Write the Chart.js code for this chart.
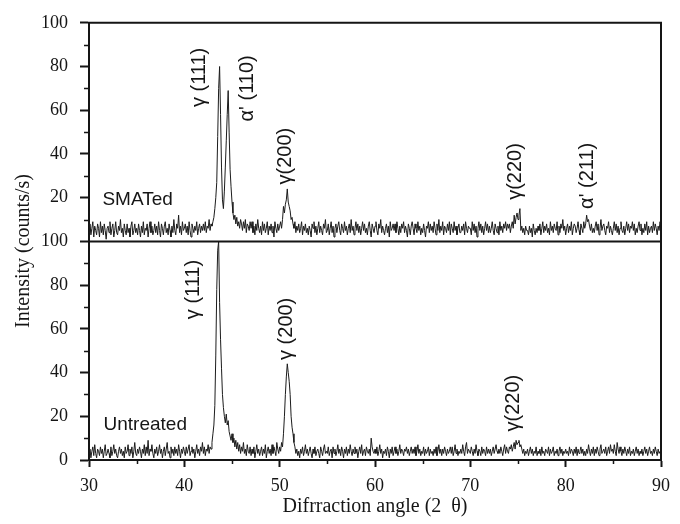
<!DOCTYPE html>
<html>
<head>
<meta charset="utf-8">
<script src="https://cdn.jsdelivr.net/npm/chart.js@4.4.1/dist/chart.umd.min.js"></script>
<style>
  html, body { margin: 0; padding: 0; background: #fff; }
  #wrap { width: 680px; height: 524px; }
</style>
</head>
<body>
<div id="wrap"><canvas id="xrdChart" width="680" height="524"></canvas></div>
<script>
// 2-theta grid, 0.1 degree steps from 30 to 90
const startAngle = 30;
const stepAngle = 0.1;
const angleCount = 601;
const angles = Array.from({ length: angleCount }, (_, i) => +(startAngle + i * stepAngle).toFixed(1));

const xTicks = [30, 40, 50, 60, 70, 80, 90];
const yTicks = [0, 20, 40, 60, 80, 100];

// SMATed sample (upper panel), one row per degree
const smated = [
  4,8,3,6,9,2,7,5,3,8,   // 30
  6,2,9,4,7,3,8,5,1,6,
  7,4,9,3,6,8,2,5,9,4,
  3,7,5,10,4,6,2,8,5,3,
  8,4,6,2,7,9,3,5,8,4,
  6,3,8,5,2,7,4,9,3,6,   // 35
  5,8,2,6,9,4,7,3,5,8,
  4,7,3,9,5,2,8,6,3,7,
  9,4,6,3,8,5,2,7,4,10,
  5,3,8,6,12,4,7,3,9,5,
  6,8,4,7,3,9,5,2,8,6,   // 40
  4,7,5,9,3,6,8,4,7,5,
  8,5,9,4,7,6,10,5,8,7,
  9,11,15,20,27,48,70,80,58,34,
  19,15,23,34,46,58,69,50,33,25,
  18,13,10,12,8,11,7,9,6,10,   // 45
  8,5,9,6,10,4,8,7,5,9,
  6,9,4,7,3,8,5,10,6,4,
  7,3,9,5,8,4,6,9,3,7,
  5,8,4,7,2,9,6,4,8,5,
  7,9,6,10,16,13,17,19,24,18,  // 50
  16,14,10,11,8,6,9,4,7,5,
  8,4,6,9,3,7,5,8,4,6,
  3,7,5,2,8,6,9,4,7,3,
  6,9,4,7,5,3,8,6,10,4,
  5,8,3,6,9,4,7,2,6,8,   // 55
  4,7,9,5,3,8,6,4,9,5,
  7,3,6,8,4,10,5,7,3,6,
  9,5,8,4,7,3,6,9,5,8,
  4,6,3,7,9,5,2,8,6,4,
  7,9,5,3,8,6,10,4,7,5,  // 60
  3,6,8,4,7,2,9,5,6,8,
  5,8,4,9,6,3,7,4,8,6,
  9,4,7,5,2,8,6,3,7,9,
  6,3,8,6,4,9,5,7,3,6,
  4,8,5,2,7,6,9,4,8,5,   // 65
  7,4,9,6,3,8,5,10,4,7,
  5,9,3,7,6,4,8,5,9,3,
  8,6,4,9,5,7,3,6,8,4,
  4,7,5,8,3,9,6,4,7,6,
  6,3,9,5,8,4,7,2,6,9,   // 70
  5,8,4,7,3,6,9,5,8,4,
  7,4,6,9,5,3,8,6,4,7,
  3,9,5,7,4,8,6,9,5,8,
  6,8,4,7,9,6,12,8,11,13,
  10,12,15,5,7,4,6,3,7,5,  // 75
  5,3,7,4,6,2,8,5,3,6,
  4,7,5,8,3,6,9,4,7,5,
  8,4,6,3,9,5,7,4,8,6,
  5,9,3,7,4,8,6,10,5,7,
  3,6,8,4,7,5,9,3,6,8,   // 80
  7,4,6,9,5,3,8,6,4,9,
  6,8,12,9,10,7,5,8,4,6,
  4,7,9,5,8,3,6,10,5,7,
  8,5,3,7,6,9,4,7,5,3,
  6,9,5,8,4,7,3,6,9,5,   // 85
  4,7,3,6,9,5,8,4,7,6,
  9,5,8,3,6,4,7,9,5,8,
  3,6,4,8,5,9,3,7,4,6,
  7,4,9,5,8,6,3,7,5,9,
  6                      // 90
];

// Untreated sample (lower panel)
const untreated = [
  3,5,1,4,6,2,7,3,1,5,   // 30
  4,2,6,3,5,1,4,7,2,3,
  5,3,1,6,2,4,7,3,5,2,
  1,4,6,3,5,2,4,1,6,3,
  4,7,2,5,3,6,1,4,8,3,
  2,5,3,6,4,1,5,3,7,2,   // 35
  6,3,9,2,5,4,7,3,1,5,
  3,6,2,4,7,3,5,1,4,6,
  2,5,8,3,4,1,6,3,5,2,
  6,3,5,2,7,4,1,5,3,6,
  4,2,6,3,5,7,2,4,6,3,   // 40
  5,1,4,7,3,5,2,6,4,8,
  3,6,2,5,4,7,3,6,5,8,
  12,16,25,48,78,96,100,72,55,42,
  30,24,20,17,21,16,18,13,11,9,
  12,8,10,6,9,5,8,4,7,3,   // 45
  6,4,8,3,5,2,7,4,3,6,
  2,5,3,6,1,4,7,3,5,2,
  4,6,2,5,3,7,1,4,6,3,
  5,2,7,3,6,4,2,8,5,3,
  6,4,8,6,12,20,30,38,44,40,  // 50
  36,30,20,15,12,8,6,3,5,2,
  4,1,5,3,6,2,4,7,3,5,
  2,4,6,3,1,5,3,6,2,4,
  5,3,1,6,4,2,5,7,3,4,
  3,6,2,4,5,1,6,3,5,2,   // 55
  4,7,3,5,2,6,4,1,5,3,
  6,2,5,3,7,4,2,5,3,6,
  3,5,1,4,6,3,7,2,4,5,
  2,6,4,3,5,2,10,6,4,3,
  5,3,6,2,4,7,3,5,1,4,   // 60
  3,5,2,6,4,1,5,3,6,2,
  4,6,3,5,2,4,7,3,5,4,
  2,5,4,6,3,5,2,4,6,3,
  5,3,6,2,4,7,3,5,2,4,
  3,6,2,5,3,4,6,2,5,3,   // 65
  4,2,5,3,6,2,4,7,3,5,
  2,5,3,6,4,2,5,3,4,6,
  3,6,2,4,7,3,5,2,4,3,
  5,3,7,4,2,6,8,3,5,4,
  3,6,4,2,5,3,7,4,2,5,   // 70
  4,2,6,3,5,4,2,6,3,5,
  3,5,2,4,6,3,5,7,4,3,
  5,3,6,4,2,5,7,3,6,4,
  3,6,5,7,4,6,8,5,9,7,
  8,9,6,7,5,3,5,2,4,3,   // 75
  5,2,4,6,3,5,2,4,3,6,
  2,4,3,5,2,6,3,4,2,5,
  4,3,6,2,5,3,4,6,2,4,
  3,5,2,4,6,3,5,2,4,3,
  5,3,4,2,6,3,5,4,2,5,   // 80
  3,6,2,5,3,4,6,3,5,2,
  4,2,5,3,7,4,2,5,3,6,
  2,5,3,6,4,2,5,7,3,4,
  5,3,6,2,4,6,3,7,4,5,
  3,7,4,2,8,5,3,6,4,2,   // 85
  5,3,6,4,2,5,3,6,2,4,
  3,5,2,4,6,3,5,2,4,3,
  5,2,4,6,3,5,2,4,6,3,
  4,2,5,3,6,4,2,5,3,4,
  4                      // 90
];

// peak labels: text, position in data units, panel axis, rotated or not
const peakLabels = [
  { text: 'γ (111)',  x: 41.6, y: 75, axis: 'yTop',    rot: true },
  { text: 'α\' (110)', x: 46.6, y: 70, axis: 'yTop',    rot: true },
  { text: 'γ(200)',   x: 50.6, y: 39, axis: 'yTop',    rot: true },
  { text: 'γ(220)',   x: 74.7, y: 32, axis: 'yTop',    rot: true },
  { text: 'α\' (211)', x: 82.3, y: 30, axis: 'yTop',    rot: true },
  { text: 'SMATed',   x: 35.1, y: 19, axis: 'yTop',    rot: false },
  { text: 'γ (111)',  x: 41.0, y: 78, axis: 'yBottom', rot: true },
  { text: 'γ (200)',  x: 50.7, y: 60, axis: 'yBottom', rot: true },
  { text: 'γ(220)',   x: 74.5, y: 26, axis: 'yBottom', rot: true },
  { text: 'Untreated', x: 35.9, y: 16, axis: 'yBottom', rot: false }
];

const INK = '#151515';
const tickFont = { family: "'Liberation Serif', 'Times New Roman', serif", size: 18 };

// frame, middle divider, minor ticks, labels and the shared y title
const decorPlugin = {
  id: 'decor',
  afterDraw(chart) {
    const { ctx, chartArea: a, scales } = chart;
    const xs = scales.x, yt = scales.yTop, yb = scales.yBottom;
    ctx.save();
    ctx.strokeStyle = INK;
    ctx.lineWidth = 2;
    ctx.beginPath();
    ctx.moveTo(a.left - 1, a.top); ctx.lineTo(a.right, a.top); ctx.lineTo(a.right, a.bottom);
    const mid = yt.getPixelForValue(0);
    ctx.moveTo(a.left, mid); ctx.lineTo(a.right + 1, mid);
    ctx.stroke();

    // minor ticks
    ctx.beginPath();
    [yt, yb].forEach(s => {
      [10, 30, 50, 70, 90].forEach(v => {
        const py = Math.round(s.getPixelForValue(v)) + 0.5;
        ctx.moveTo(a.left - 5, py); ctx.lineTo(a.left, py);
      });
    });
    [35, 45, 55, 65, 75, 85].forEach(v => {
      const px = Math.round(xs.getPixelForValue(v)) + 0.5;
      ctx.moveTo(px, a.bottom); ctx.lineTo(px, a.bottom + 4);
    });
    ctx.lineWidth = 1.5;
    ctx.stroke();

    // peak labels
    ctx.fillStyle = INK;
    ctx.textAlign = 'center';
    ctx.textBaseline = 'middle';
    peakLabels.forEach(l => {
      const px = xs.getPixelForValue(l.x);
      const py = scales[l.axis].getPixelForValue(l.y);
      ctx.save();
      ctx.translate(px, py);
      if (l.rot) {
        ctx.rotate(-Math.PI / 2);
        ctx.font = "20px 'Liberation Sans', Arial, sans-serif";
      } else {
        ctx.font = "19px 'Liberation Sans', Arial, sans-serif";
      }
      ctx.fillText(l.text, 0, 0);
      ctx.restore();
    });

    // y title spanning both panels
    ctx.save();
    ctx.translate(24, 251);
    ctx.rotate(-Math.PI / 2);
    ctx.font = "20px 'Liberation Serif', 'Times New Roman', serif";
    ctx.fillText('Intensity (counts/s)', 0, 0);
    ctx.restore();
    ctx.restore();
  }
};

function yAxis(showZero) {
  return {
    type: 'linear',
    position: 'left',
    stack: 'xrd',
    stackWeight: 1,
    min: 0,
    max: 100,
    afterFit: s => { s.width = 89; },
    afterBuildTicks: s => { s.ticks = yTicks.filter(v => showZero || v !== 0).map(v => ({ value: v })); },
    ticks: { color: INK, font: tickFont, padding: 12, autoSkip: false },
    grid: { drawOnChartArea: false, tickLength: 9, tickWidth: 2, tickColor: INK },
    border: { color: INK, width: 2 }
  };
}

new Chart(document.getElementById('xrdChart'), {
  type: 'line',
  data: {
    datasets: [
      {
        label: 'SMATed',
        data: smated.map((v, i) => ({ x: angles[i], y: v })),
        yAxisID: 'yTop',
        borderColor: '#1c1c1c', borderWidth: 1, pointRadius: 0, tension: 0
      },
      {
        label: 'Untreated',
        data: untreated.map((v, i) => ({ x: angles[i], y: v })),
        yAxisID: 'yBottom',
        borderColor: '#1c1c1c', borderWidth: 1, pointRadius: 0, tension: 0
      }
    ]
  },
  options: {
    responsive: false,
    animation: false,
    layout: { padding: { left: 0, top: 16, right: 19, bottom: 0 } },
    plugins: { legend: { display: false }, tooltip: { enabled: false } },
    scales: {
      x: {
        type: 'linear',
        min: 30,
        max: 90,
        afterFit: s => { s.height = 64; },
        afterBuildTicks: s => { s.ticks = xTicks.map(v => ({ value: v })); },
        ticks: { color: INK, font: tickFont, padding: 8, autoSkip: false, maxRotation: 0 },
        grid: { drawOnChartArea: false, tickLength: 7, tickWidth: 2, tickColor: INK },
        border: { color: INK, width: 2 },
        title: {
          display: true,
          text: 'Difrraction angle (2  θ)',
          color: INK,
          font: { family: "'Liberation Serif', 'Times New Roman', serif", size: 20 },
          padding: { top: 0, bottom: 5 }
        }
      },
      // first axis of the stack is laid out at the bottom
      yBottom: yAxis(true),
      yTop: yAxis(false)
    }
  },
  plugins: [decorPlugin]
});
</script>
</body>
</html>
